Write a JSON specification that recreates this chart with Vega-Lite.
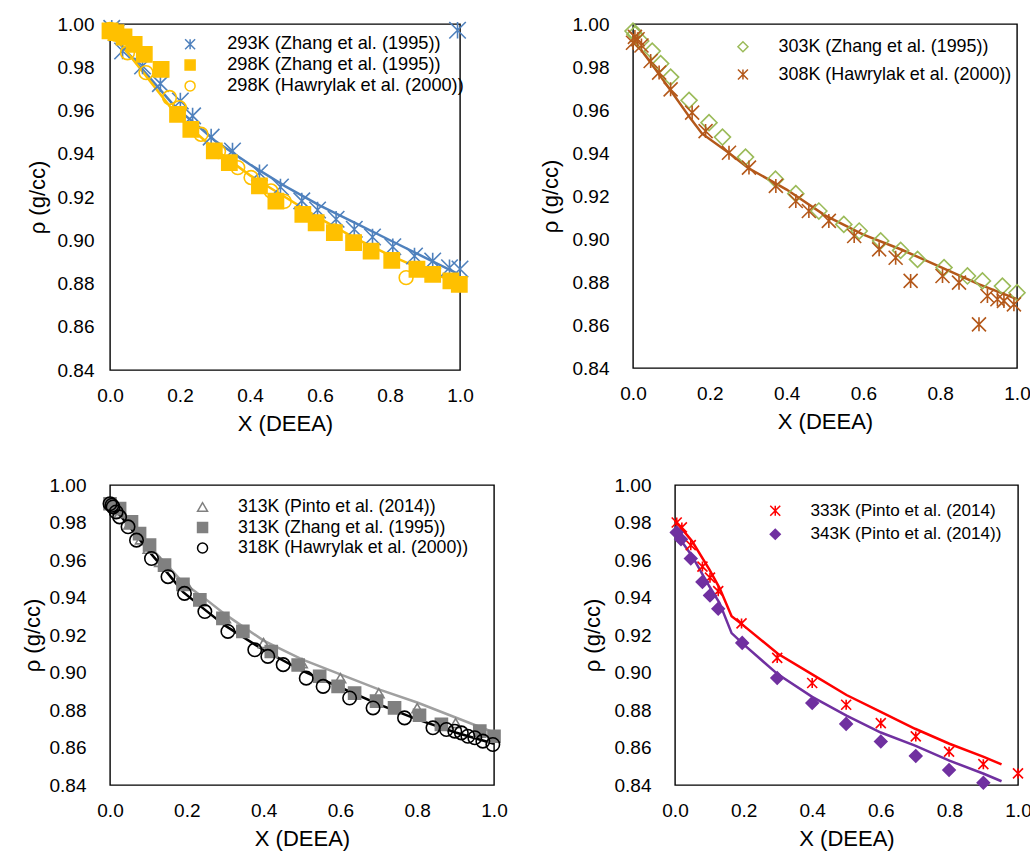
{
  "$schema": "https://vega.github.io/schema/vega-lite/v6.json",
  "padding": {"left": 20, "top": 14, "right": 5, "bottom": 5},
  "config": {
    "font": "Liberation Sans",
    "view": {"stroke": "#000000", "strokeWidth": 1.4},
    "axis": {"grid": false, "ticks": false, "domain": false, "labelFontSize": 19, "titleFontSize": 22, "titleFontWeight": "normal", "labelColor": "#000000", "titleColor": "#000000", "labelFont": "Liberation Sans", "titleFont": "Liberation Sans", "labelFlush": false},
    "legend": {"labelFontSize": 17.5, "labelColor": "#000000", "labelFont": "Liberation Sans", "symbolSize": 100, "symbolStrokeWidth": 1.5, "padding": 0, "labelLimit": 400}
  },
  "resolve": {"scale": {"x": "independent", "y": "independent", "color": "independent", "stroke": "independent", "fill": "independent", "shape": "independent", "size": "independent"}, "legend": {"stroke": "independent", "fill": "independent", "shape": "independent"}},
  "spacing": 39,
  "vconcat": [
    {
      "align": "none",
      "spacing": 64,
      "resolve": {"scale": {"x": "independent", "y": "independent", "color": "independent", "stroke": "independent", "fill": "independent", "shape": "independent", "size": "independent"}, "legend": {"stroke": "independent", "fill": "independent", "shape": "independent"}},
      "hconcat": [
        {
          "width": 350, "height": 346,
          "encoding": {
            "x": {"field": "x", "type": "quantitative", "scale": {"domain": [0, 1], "nice": false}, "axis": {"values": [0, 0.2, 0.4, 0.6, 0.8, 1], "format": ".1f", "title": "X (DEEA)", "labelPadding": 16.5, "titlePadding": 8}},
            "y": {"field": "rho", "type": "quantitative", "scale": {"domain": [0.84, 1], "nice": false, "zero": false}, "axis": {"values": [0.84, 0.86, 0.88, 0.9, 0.92, 0.94, 0.96, 0.98, 1], "format": ".2f", "title": "ρ (g/cc)", "labelPadding": 16, "titlePadding": 8}}
          },
          "layer": [
            {
              "data": {"values": [
                {"model": "293K", "x": 0, "rho": 0.996}, {"model": "293K", "x": 0.1, "rho": 0.9776}, {"model": "293K", "x": 0.19, "rho": 0.961}, {"model": "293K", "x": 0.25, "rho": 0.953}, {"model": "293K", "x": 0.3, "rho": 0.946}, {"model": "293K", "x": 0.4, "rho": 0.935}, {"model": "293K", "x": 0.5, "rho": 0.925}, {"model": "293K", "x": 0.6, "rho": 0.916}, {"model": "293K", "x": 0.7, "rho": 0.908}, {"model": "293K", "x": 0.8, "rho": 0.9}, {"model": "293K", "x": 0.9, "rho": 0.892}, {"model": "293K", "x": 1, "rho": 0.884},
                {"model": "298K", "x": 0, "rho": 0.997}, {"model": "298K", "x": 0.1, "rho": 0.9765}, {"model": "298K", "x": 0.19, "rho": 0.958}, {"model": "298K", "x": 0.25, "rho": 0.949}, {"model": "298K", "x": 0.3, "rho": 0.942}, {"model": "298K", "x": 0.4, "rho": 0.93}, {"model": "298K", "x": 0.5, "rho": 0.92}, {"model": "298K", "x": 0.6, "rho": 0.91}, {"model": "298K", "x": 0.7, "rho": 0.901}, {"model": "298K", "x": 0.8, "rho": 0.893}, {"model": "298K", "x": 0.9, "rho": 0.886}, {"model": "298K", "x": 1, "rho": 0.88}
              ]},
              "mark": {"type": "line", "strokeWidth": 2.5},
              "encoding": {"color": {"field": "model", "type": "nominal", "scale": {"domain": ["293K", "298K"], "range": ["#4F81BD", "#FFC000"]}, "legend": null}}
            },
            {
              "data": {"values": [
                {"s": "293K (Zhang et al. (1995))", "x": 0.005, "rho": 0.998}, {"s": "293K (Zhang et al. (1995))", "x": 0.018, "rho": 0.996}, {"s": "293K (Zhang et al. (1995))", "x": 0.036, "rho": 0.9875}, {"s": "293K (Zhang et al. (1995))", "x": 0.093, "rho": 0.9806}, {"s": "293K (Zhang et al. (1995))", "x": 0.144, "rho": 0.9724}, {"s": "293K (Zhang et al. (1995))", "x": 0.201, "rho": 0.9644}, {"s": "293K (Zhang et al. (1995))", "x": 0.236, "rho": 0.9575}, {"s": "293K (Zhang et al. (1995))", "x": 0.289, "rho": 0.9477}, {"s": "293K (Zhang et al. (1995))", "x": 0.35, "rho": 0.9413}, {"s": "293K (Zhang et al. (1995))", "x": 0.427, "rho": 0.9312}, {"s": "293K (Zhang et al. (1995))", "x": 0.487, "rho": 0.9246}, {"s": "293K (Zhang et al. (1995))", "x": 0.548, "rho": 0.9182}, {"s": "293K (Zhang et al. (1995))", "x": 0.593, "rho": 0.914}, {"s": "293K (Zhang et al. (1995))", "x": 0.646, "rho": 0.9097}, {"s": "293K (Zhang et al. (1995))", "x": 0.698, "rho": 0.9051}, {"s": "293K (Zhang et al. (1995))", "x": 0.75, "rho": 0.9015}, {"s": "293K (Zhang et al. (1995))", "x": 0.808, "rho": 0.897}, {"s": "293K (Zhang et al. (1995))", "x": 0.87, "rho": 0.8927}, {"s": "293K (Zhang et al. (1995))", "x": 0.922, "rho": 0.8904}, {"s": "293K (Zhang et al. (1995))", "x": 0.97, "rho": 0.8873}, {"s": "293K (Zhang et al. (1995))", "x": 1.0, "rho": 0.8867}, {"s": "293K (Zhang et al. (1995))", "x": 0.993, "rho": 0.9971},
                {"s": "298K (Zhang et al. (1995))", "x": 0.0, "rho": 0.9968}, {"s": "298K (Zhang et al. (1995))", "x": 0.017, "rho": 0.996}, {"s": "298K (Zhang et al. (1995))", "x": 0.04, "rho": 0.994}, {"s": "298K (Zhang et al. (1995))", "x": 0.069, "rho": 0.9906}, {"s": "298K (Zhang et al. (1995))", "x": 0.098, "rho": 0.986}, {"s": "298K (Zhang et al. (1995))", "x": 0.146, "rho": 0.979}, {"s": "298K (Zhang et al. (1995))", "x": 0.193, "rho": 0.9582}, {"s": "298K (Zhang et al. (1995))", "x": 0.231, "rho": 0.9513}, {"s": "298K (Zhang et al. (1995))", "x": 0.298, "rho": 0.9413}, {"s": "298K (Zhang et al. (1995))", "x": 0.341, "rho": 0.9359}, {"s": "298K (Zhang et al. (1995))", "x": 0.427, "rho": 0.9251}, {"s": "298K (Zhang et al. (1995))", "x": 0.474, "rho": 0.9181}, {"s": "298K (Zhang et al. (1995))", "x": 0.551, "rho": 0.912}, {"s": "298K (Zhang et al. (1995))", "x": 0.589, "rho": 0.9081}, {"s": "298K (Zhang et al. (1995))", "x": 0.641, "rho": 0.9035}, {"s": "298K (Zhang et al. (1995))", "x": 0.696, "rho": 0.8989}, {"s": "298K (Zhang et al. (1995))", "x": 0.746, "rho": 0.895}, {"s": "298K (Zhang et al. (1995))", "x": 0.805, "rho": 0.8907}, {"s": "298K (Zhang et al. (1995))", "x": 0.877, "rho": 0.8866}, {"s": "298K (Zhang et al. (1995))", "x": 0.922, "rho": 0.8842}, {"s": "298K (Zhang et al. (1995))", "x": 0.974, "rho": 0.8812}, {"s": "298K (Zhang et al. (1995))", "x": 0.998, "rho": 0.8796},
                {"s": "298K (Hawrylak et al. (2000))", "x": 0.0, "rho": 0.9975}, {"s": "298K (Hawrylak et al. (2000))", "x": 0.017, "rho": 0.9952}, {"s": "298K (Hawrylak et al. (2000))", "x": 0.05, "rho": 0.9867}, {"s": "298K (Hawrylak et al. (2000))", "x": 0.103, "rho": 0.9775}, {"s": "298K (Hawrylak et al. (2000))", "x": 0.17, "rho": 0.966}, {"s": "298K (Hawrylak et al. (2000))", "x": 0.198, "rho": 0.9613}, {"s": "298K (Hawrylak et al. (2000))", "x": 0.26, "rho": 0.949}, {"s": "298K (Hawrylak et al. (2000))", "x": 0.31, "rho": 0.941}, {"s": "298K (Hawrylak et al. (2000))", "x": 0.365, "rho": 0.9336}, {"s": "298K (Hawrylak et al. (2000))", "x": 0.403, "rho": 0.929}, {"s": "298K (Hawrylak et al. (2000))", "x": 0.46, "rho": 0.9228}, {"s": "298K (Hawrylak et al. (2000))", "x": 0.498, "rho": 0.918}, {"s": "298K (Hawrylak et al. (2000))", "x": 0.641, "rho": 0.9043}, {"s": "298K (Hawrylak et al. (2000))", "x": 0.846, "rho": 0.8827}
              ]},
              "mark": {"type": "point", "opacity": 1, "strokeWidth": 1.6},
              "encoding": {
                "stroke": {"field": "s", "type": "nominal", "scale": {"domain": ["293K (Zhang et al. (1995))", "298K (Zhang et al. (1995))", "298K (Hawrylak et al. (2000))"], "range": ["#4F81BD", "#FFC000", "#FFC000"]}, "legend": {"orient": "none", "legendX": 71, "legendY": 11.2, "rowPadding": 1.8, "labelOffset": 28, "labelFontSize": 18.2, "title": null}},
                "fill": {"field": "s", "type": "nominal", "scale": {"domain": ["293K (Zhang et al. (1995))", "298K (Zhang et al. (1995))", "298K (Hawrylak et al. (2000))"], "range": ["transparent", "#FFC000", "transparent"]}, "legend": {"orient": "none", "legendX": 71, "legendY": 11.2, "rowPadding": 1.8, "labelOffset": 28, "labelFontSize": 18.2, "title": null}},
                "shape": {"field": "s", "type": "nominal", "scale": {"domain": ["293K (Zhang et al. (1995))", "298K (Zhang et al. (1995))", "298K (Hawrylak et al. (2000))"], "range": ["M-1,-1L1,1M-1,1L1,-1M0,-1L0,1", "square", "circle"]}, "legend": {"orient": "none", "legendX": 71, "legendY": 11.2, "rowPadding": 1.8, "labelOffset": 28, "labelFontSize": 18.2, "title": null}},
                "size": {"field": "s", "type": "nominal", "scale": {"domain": ["298K (Hawrylak et al. (2000))", "298K (Zhang et al. (1995))", "293K (Zhang et al. (1995))"], "range": [190, 272, 144]}, "legend": null}
              }
            }
          ]
        },
        {
          "width": 384, "height": 344,
          "encoding": {
            "x": {"field": "x", "type": "quantitative", "scale": {"domain": [0, 1], "nice": false}, "axis": {"values": [0, 0.2, 0.4, 0.6, 0.8, 1], "format": ".1f", "title": "X (DEEA)", "labelPadding": 16.5, "titlePadding": 8}},
            "y": {"field": "rho", "type": "quantitative", "scale": {"domain": [0.84, 1], "nice": false, "zero": false}, "axis": {"values": [0.84, 0.86, 0.88, 0.9, 0.92, 0.94, 0.96, 0.98, 1], "format": ".2f", "title": "ρ (g/cc)", "labelPadding": 24, "titlePadding": 10}}
          },
          "layer": [
            {
              "data": {"values": [
                {"model": "308K", "x": 0, "rho": 0.993}, {"model": "308K", "x": 0.05, "rho": 0.981}, {"model": "308K", "x": 0.1, "rho": 0.9686}, {"model": "308K", "x": 0.15, "rho": 0.956}, {"model": "308K", "x": 0.18, "rho": 0.949}, {"model": "308K", "x": 0.25, "rho": 0.94}, {"model": "308K", "x": 0.3, "rho": 0.933}, {"model": "308K", "x": 0.4, "rho": 0.923}, {"model": "308K", "x": 0.5, "rho": 0.911}, {"model": "308K", "x": 0.6, "rho": 0.902}, {"model": "308K", "x": 0.7, "rho": 0.895}, {"model": "308K", "x": 0.8, "rho": 0.887}, {"model": "308K", "x": 0.9, "rho": 0.879}, {"model": "308K", "x": 1, "rho": 0.872}
              ]},
              "mark": {"type": "line", "strokeWidth": 2.5},
              "encoding": {"color": {"field": "model", "type": "nominal", "scale": {"domain": ["308K"], "range": ["#B4581A"]}, "legend": null}}
            },
            {
              "data": {"values": [
                {"s": "303K (Zhang et al. (1995))", "x": 0.0, "rho": 0.9967}, {"s": "303K (Zhang et al. (1995))", "x": 0.005, "rho": 0.9952}, {"s": "303K (Zhang et al. (1995))", "x": 0.02, "rho": 0.9921}, {"s": "303K (Zhang et al. (1995))", "x": 0.05, "rho": 0.9874}, {"s": "303K (Zhang et al. (1995))", "x": 0.072, "rho": 0.9816}, {"s": "303K (Zhang et al. (1995))", "x": 0.098, "rho": 0.9753}, {"s": "303K (Zhang et al. (1995))", "x": 0.146, "rho": 0.9645}, {"s": "303K (Zhang et al. (1995))", "x": 0.198, "rho": 0.9541}, {"s": "303K (Zhang et al. (1995))", "x": 0.233, "rho": 0.9474}, {"s": "303K (Zhang et al. (1995))", "x": 0.293, "rho": 0.9381}, {"s": "303K (Zhang et al. (1995))", "x": 0.371, "rho": 0.9278}, {"s": "303K (Zhang et al. (1995))", "x": 0.424, "rho": 0.9211}, {"s": "303K (Zhang et al. (1995))", "x": 0.484, "rho": 0.913}, {"s": "303K (Zhang et al. (1995))", "x": 0.549, "rho": 0.9068}, {"s": "303K (Zhang et al. (1995))", "x": 0.589, "rho": 0.9037}, {"s": "303K (Zhang et al. (1995))", "x": 0.645, "rho": 0.8991}, {"s": "303K (Zhang et al. (1995))", "x": 0.697, "rho": 0.8947}, {"s": "303K (Zhang et al. (1995))", "x": 0.741, "rho": 0.8905}, {"s": "303K (Zhang et al. (1995))", "x": 0.81, "rho": 0.8867}, {"s": "303K (Zhang et al. (1995))", "x": 0.871, "rho": 0.8828}, {"s": "303K (Zhang et al. (1995))", "x": 0.91, "rho": 0.8805}, {"s": "303K (Zhang et al. (1995))", "x": 0.962, "rho": 0.8781}, {"s": "303K (Zhang et al. (1995))", "x": 1.0, "rho": 0.875},
                {"s": "308K (Hawrylak et al. (2000))", "x": 0.0, "rho": 0.9913}, {"s": "308K (Hawrylak et al. (2000))", "x": 0.005, "rho": 0.994}, {"s": "308K (Hawrylak et al. (2000))", "x": 0.012, "rho": 0.9929}, {"s": "308K (Hawrylak et al. (2000))", "x": 0.022, "rho": 0.99}, {"s": "308K (Hawrylak et al. (2000))", "x": 0.046, "rho": 0.9828}, {"s": "308K (Hawrylak et al. (2000))", "x": 0.068, "rho": 0.9774}, {"s": "308K (Hawrylak et al. (2000))", "x": 0.098, "rho": 0.9696}, {"s": "308K (Hawrylak et al. (2000))", "x": 0.154, "rho": 0.9588}, {"s": "308K (Hawrylak et al. (2000))", "x": 0.189, "rho": 0.9502}, {"s": "308K (Hawrylak et al. (2000))", "x": 0.25, "rho": 0.9401}, {"s": "308K (Hawrylak et al. (2000))", "x": 0.302, "rho": 0.9332}, {"s": "308K (Hawrylak et al. (2000))", "x": 0.372, "rho": 0.9247}, {"s": "308K (Hawrylak et al. (2000))", "x": 0.424, "rho": 0.9177}, {"s": "308K (Hawrylak et al. (2000))", "x": 0.458, "rho": 0.913}, {"s": "308K (Hawrylak et al. (2000))", "x": 0.51, "rho": 0.9084}, {"s": "308K (Hawrylak et al. (2000))", "x": 0.576, "rho": 0.9014}, {"s": "308K (Hawrylak et al. (2000))", "x": 0.641, "rho": 0.8952}, {"s": "308K (Hawrylak et al. (2000))", "x": 0.684, "rho": 0.8913}, {"s": "308K (Hawrylak et al. (2000))", "x": 0.723, "rho": 0.8805}, {"s": "308K (Hawrylak et al. (2000))", "x": 0.806, "rho": 0.8828}, {"s": "308K (Hawrylak et al. (2000))", "x": 0.849, "rho": 0.8797}, {"s": "308K (Hawrylak et al. (2000))", "x": 0.901, "rho": 0.8603}, {"s": "308K (Hawrylak et al. (2000))", "x": 0.923, "rho": 0.8735}, {"s": "308K (Hawrylak et al. (2000))", "x": 0.949, "rho": 0.872}, {"s": "308K (Hawrylak et al. (2000))", "x": 0.966, "rho": 0.8712}, {"s": "308K (Hawrylak et al. (2000))", "x": 0.992, "rho": 0.8696}
              ]},
              "mark": {"type": "point", "opacity": 1, "strokeWidth": 1.6},
              "encoding": {
                "stroke": {"field": "s", "type": "nominal", "scale": {"domain": ["303K (Zhang et al. (1995))", "308K (Hawrylak et al. (2000))"], "range": ["#9BBB59", "#B4581A"]}, "legend": {"orient": "none", "legendX": 101, "legendY": 13.75, "rowPadding": 8.8, "labelOffset": 26.7, "labelFontSize": 17.9, "title": null}},
                "fill": {"field": "s", "type": "nominal", "scale": {"domain": ["303K (Zhang et al. (1995))", "308K (Hawrylak et al. (2000))"], "range": ["transparent", "transparent"]}, "legend": {"orient": "none", "legendX": 101, "legendY": 13.75, "rowPadding": 8.8, "labelOffset": 26.7, "labelFontSize": 17.9, "title": null}},
                "shape": {"field": "s", "type": "nominal", "scale": {"domain": ["303K (Zhang et al. (1995))", "308K (Hawrylak et al. (2000))"], "range": ["diamond", "M-1,-1L1,1M-1,1L1,-1M0,-1L0,1"]}, "legend": {"orient": "none", "legendX": 101, "legendY": 13.75, "rowPadding": 8.8, "labelOffset": 26.7, "labelFontSize": 17.9, "title": null}},
                "size": {"field": "s", "type": "nominal", "scale": {"domain": ["308K (Hawrylak et al. (2000))", "303K (Zhang et al. (1995))"], "range": [196, 256]}, "legend": null}
              }
            }
          ]
        }
      ]
    },
    {
      "align": "none",
      "spacing": 72,
      "resolve": {"scale": {"x": "independent", "y": "independent", "color": "independent", "stroke": "independent", "fill": "independent", "shape": "independent", "size": "independent"}, "legend": {"stroke": "independent", "fill": "independent", "shape": "independent"}},
      "hconcat": [
        {
          "width": 384, "height": 300,
          "encoding": {
            "x": {"field": "x", "type": "quantitative", "scale": {"domain": [0, 1], "nice": false}, "axis": {"values": [0, 0.2, 0.4, 0.6, 0.8, 1], "format": ".1f", "title": "X (DEEA)", "labelPadding": 16.5, "titlePadding": 8}},
            "y": {"field": "rho", "type": "quantitative", "scale": {"domain": [0.84, 1], "nice": false, "zero": false}, "axis": {"values": [0.84, 0.86, 0.88, 0.9, 0.92, 0.94, 0.96, 0.98, 1], "format": ".2f", "title": "ρ (g/cc)", "labelPadding": 24, "titlePadding": 5}}
          },
          "layer": [
            {
              "data": {"values": [
                {"model": "313K", "x": 0, "rho": 0.99}, {"model": "313K", "x": 0.05, "rho": 0.979}, {"model": "313K", "x": 0.1, "rho": 0.968}, {"model": "313K", "x": 0.15, "rho": 0.957}, {"model": "313K", "x": 0.19, "rho": 0.948}, {"model": "313K", "x": 0.25, "rho": 0.939}, {"model": "313K", "x": 0.3, "rho": 0.931}, {"model": "313K", "x": 0.4, "rho": 0.917}, {"model": "313K", "x": 0.5, "rho": 0.907}, {"model": "313K", "x": 0.6, "rho": 0.899}, {"model": "313K", "x": 0.7, "rho": 0.891}, {"model": "313K", "x": 0.8, "rho": 0.884}, {"model": "313K", "x": 0.9, "rho": 0.876}, {"model": "313K", "x": 1, "rho": 0.868},
                {"model": "318K", "x": 0, "rho": 0.99}, {"model": "318K", "x": 0.05, "rho": 0.978}, {"model": "318K", "x": 0.1, "rho": 0.965}, {"model": "318K", "x": 0.15, "rho": 0.953}, {"model": "318K", "x": 0.19, "rho": 0.943}, {"model": "318K", "x": 0.25, "rho": 0.933}, {"model": "318K", "x": 0.3, "rho": 0.925}, {"model": "318K", "x": 0.4, "rho": 0.912}, {"model": "318K", "x": 0.5, "rho": 0.901}, {"model": "318K", "x": 0.6, "rho": 0.892}, {"model": "318K", "x": 0.7, "rho": 0.883}, {"model": "318K", "x": 0.8, "rho": 0.875}, {"model": "318K", "x": 0.9, "rho": 0.868}, {"model": "318K", "x": 1, "rho": 0.862}
              ]},
              "mark": {"type": "line", "strokeWidth": 2.5},
              "encoding": {"color": {"field": "model", "type": "nominal", "scale": {"domain": ["313K", "318K"], "range": ["#A0A0A0", "#000000"]}, "legend": null}}
            },
            {
              "data": {"values": [
                {"s": "313K (Pinto et al. (2014))", "x": 0.013, "rho": 0.988}, {"s": "313K (Pinto et al. (2014))", "x": 0.025, "rho": 0.985}, {"s": "313K (Pinto et al. (2014))", "x": 0.05, "rho": 0.979}, {"s": "313K (Pinto et al. (2014))", "x": 0.08, "rho": 0.971}, {"s": "313K (Pinto et al. (2014))", "x": 0.1, "rho": 0.966}, {"s": "313K (Pinto et al. (2014))", "x": 0.13, "rho": 0.959}, {"s": "313K (Pinto et al. (2014))", "x": 0.2, "rho": 0.9467}, {"s": "313K (Pinto et al. (2014))", "x": 0.3, "rho": 0.929}, {"s": "313K (Pinto et al. (2014))", "x": 0.4, "rho": 0.9157}, {"s": "313K (Pinto et al. (2014))", "x": 0.5, "rho": 0.905}, {"s": "313K (Pinto et al. (2014))", "x": 0.6, "rho": 0.897}, {"s": "313K (Pinto et al. (2014))", "x": 0.7, "rho": 0.889}, {"s": "313K (Pinto et al. (2014))", "x": 0.8, "rho": 0.881}, {"s": "313K (Pinto et al. (2014))", "x": 0.9, "rho": 0.873}, {"s": "313K (Pinto et al. (2014))", "x": 1.0, "rho": 0.866},
                {"s": "313K (Zhang et al. (1995))", "x": 0.0, "rho": 0.99}, {"s": "313K (Zhang et al. (1995))", "x": 0.025, "rho": 0.9874}, {"s": "313K (Zhang et al. (1995))", "x": 0.056, "rho": 0.9803}, {"s": "313K (Zhang et al. (1995))", "x": 0.077, "rho": 0.9741}, {"s": "313K (Zhang et al. (1995))", "x": 0.103, "rho": 0.968}, {"s": "313K (Zhang et al. (1995))", "x": 0.142, "rho": 0.9573}, {"s": "313K (Zhang et al. (1995))", "x": 0.19, "rho": 0.947}, {"s": "313K (Zhang et al. (1995))", "x": 0.234, "rho": 0.9387}, {"s": "313K (Zhang et al. (1995))", "x": 0.294, "rho": 0.9289}, {"s": "313K (Zhang et al. (1995))", "x": 0.346, "rho": 0.9219}, {"s": "313K (Zhang et al. (1995))", "x": 0.42, "rho": 0.9112}, {"s": "313K (Zhang et al. (1995))", "x": 0.49, "rho": 0.904}, {"s": "313K (Zhang et al. (1995))", "x": 0.546, "rho": 0.898}, {"s": "313K (Zhang et al. (1995))", "x": 0.594, "rho": 0.8926}, {"s": "313K (Zhang et al. (1995))", "x": 0.637, "rho": 0.889}, {"s": "313K (Zhang et al. (1995))", "x": 0.694, "rho": 0.8847}, {"s": "313K (Zhang et al. (1995))", "x": 0.741, "rho": 0.8811}, {"s": "313K (Zhang et al. (1995))", "x": 0.806, "rho": 0.8772}, {"s": "313K (Zhang et al. (1995))", "x": 0.863, "rho": 0.8723}, {"s": "313K (Zhang et al. (1995))", "x": 0.963, "rho": 0.8687}, {"s": "313K (Zhang et al. (1995))", "x": 1.0, "rho": 0.866},
                {"s": "318K (Hawrylak et al. (2000))", "x": 0.0, "rho": 0.990}, {"s": "318K (Hawrylak et al. (2000))", "x": 0.005, "rho": 0.9892}, {"s": "318K (Hawrylak et al. (2000))", "x": 0.008, "rho": 0.9883}, {"s": "318K (Hawrylak et al. (2000))", "x": 0.016, "rho": 0.9856}, {"s": "318K (Hawrylak et al. (2000))", "x": 0.025, "rho": 0.983}, {"s": "318K (Hawrylak et al. (2000))", "x": 0.047, "rho": 0.9777}, {"s": "318K (Hawrylak et al. (2000))", "x": 0.069, "rho": 0.9706}, {"s": "318K (Hawrylak et al. (2000))", "x": 0.108, "rho": 0.9608}, {"s": "318K (Hawrylak et al. (2000))", "x": 0.151, "rho": 0.9511}, {"s": "318K (Hawrylak et al. (2000))", "x": 0.194, "rho": 0.9422}, {"s": "318K (Hawrylak et al. (2000))", "x": 0.247, "rho": 0.9325}, {"s": "318K (Hawrylak et al. (2000))", "x": 0.307, "rho": 0.9219}, {"s": "318K (Hawrylak et al. (2000))", "x": 0.377, "rho": 0.9121}, {"s": "318K (Hawrylak et al. (2000))", "x": 0.411, "rho": 0.9086}, {"s": "318K (Hawrylak et al. (2000))", "x": 0.451, "rho": 0.9042}, {"s": "318K (Hawrylak et al. (2000))", "x": 0.511, "rho": 0.897}, {"s": "318K (Hawrylak et al. (2000))", "x": 0.555, "rho": 0.8926}, {"s": "318K (Hawrylak et al. (2000))", "x": 0.624, "rho": 0.8864}, {"s": "318K (Hawrylak et al. (2000))", "x": 0.685, "rho": 0.8811}, {"s": "318K (Hawrylak et al. (2000))", "x": 0.767, "rho": 0.8758}, {"s": "318K (Hawrylak et al. (2000))", "x": 0.841, "rho": 0.8705}, {"s": "318K (Hawrylak et al. (2000))", "x": 0.876, "rho": 0.8696}, {"s": "318K (Hawrylak et al. (2000))", "x": 0.898, "rho": 0.8687}, {"s": "318K (Hawrylak et al. (2000))", "x": 0.915, "rho": 0.8678}, {"s": "318K (Hawrylak et al. (2000))", "x": 0.932, "rho": 0.866}, {"s": "318K (Hawrylak et al. (2000))", "x": 0.95, "rho": 0.8652}, {"s": "318K (Hawrylak et al. (2000))", "x": 0.971, "rho": 0.8634}, {"s": "318K (Hawrylak et al. (2000))", "x": 0.997, "rho": 0.8616}
              ]},
              "mark": {"type": "point", "opacity": 1, "strokeWidth": 1.6},
              "encoding": {
                "stroke": {"field": "s", "type": "nominal", "scale": {"domain": ["313K (Pinto et al. (2014))", "313K (Zhang et al. (1995))", "318K (Hawrylak et al. (2000))"], "range": ["#808080", "#808080", "#000000"]}, "legend": {"orient": "none", "legendX": 83.7, "legendY": 13.15, "rowPadding": 1.5, "labelOffset": 26.6, "labelFontSize": 17.7, "title": null}},
                "fill": {"field": "s", "type": "nominal", "scale": {"domain": ["313K (Pinto et al. (2014))", "313K (Zhang et al. (1995))", "318K (Hawrylak et al. (2000))"], "range": ["transparent", "#808080", "transparent"]}, "legend": {"orient": "none", "legendX": 83.7, "legendY": 13.15, "rowPadding": 1.5, "labelOffset": 26.6, "labelFontSize": 17.7, "title": null}},
                "shape": {"field": "s", "type": "nominal", "scale": {"domain": ["313K (Pinto et al. (2014))", "313K (Zhang et al. (1995))", "318K (Hawrylak et al. (2000))"], "range": ["triangle-up", "square", "circle"]}, "legend": {"orient": "none", "legendX": 83.7, "legendY": 13.15, "rowPadding": 1.5, "labelOffset": 26.6, "labelFontSize": 17.7, "title": null}},
                "size": {"field": "s", "type": "nominal", "scale": {"domain": ["318K (Hawrylak et al. (2000))", "313K (Zhang et al. (1995))", "313K (Pinto et al. (2014))"], "range": [180, 110, 100]}, "legend": null}
              }
            }
          ]
        },
        {
          "width": 343, "height": 300,
          "encoding": {
            "x": {"field": "x", "type": "quantitative", "scale": {"domain": [0, 1], "nice": false}, "axis": {"values": [0, 0.2, 0.4, 0.6, 0.8, 1], "format": ".1f", "title": "X (DEEA)", "labelPadding": 16.5, "titlePadding": 8}},
            "y": {"field": "rho", "type": "quantitative", "scale": {"domain": [0.84, 1], "nice": false, "zero": false}, "axis": {"values": [0.84, 0.86, 0.88, 0.9, 0.92, 0.94, 0.96, 0.98, 1], "format": ".2f", "title": "ρ (g/cc)", "labelPadding": 24, "titlePadding": 10}}
          },
          "layer": [
            {
              "data": {"values": [
                {"model": "333K", "x": 0, "rho": 0.981}, {"model": "333K", "x": 0.05, "rho": 0.97}, {"model": "333K", "x": 0.1, "rho": 0.955}, {"model": "333K", "x": 0.13, "rho": 0.945}, {"model": "333K", "x": 0.165, "rho": 0.93}, {"model": "333K", "x": 0.2, "rho": 0.925}, {"model": "333K", "x": 0.3, "rho": 0.91}, {"model": "333K", "x": 0.4, "rho": 0.899}, {"model": "333K", "x": 0.5, "rho": 0.888}, {"model": "333K", "x": 0.6, "rho": 0.879}, {"model": "333K", "x": 0.7, "rho": 0.87}, {"model": "333K", "x": 0.8, "rho": 0.862}, {"model": "333K", "x": 0.9, "rho": 0.855}, {"model": "333K", "x": 0.952, "rho": 0.851},
                {"model": "343K", "x": 0, "rho": 0.975}, {"model": "343K", "x": 0.05, "rho": 0.962}, {"model": "343K", "x": 0.1, "rho": 0.946}, {"model": "343K", "x": 0.13, "rho": 0.937}, {"model": "343K", "x": 0.165, "rho": 0.921}, {"model": "343K", "x": 0.2, "rho": 0.915}, {"model": "343K", "x": 0.3, "rho": 0.899}, {"model": "343K", "x": 0.4, "rho": 0.887}, {"model": "343K", "x": 0.5, "rho": 0.877}, {"model": "343K", "x": 0.6, "rho": 0.868}, {"model": "343K", "x": 0.7, "rho": 0.861}, {"model": "343K", "x": 0.8, "rho": 0.853}, {"model": "343K", "x": 0.9, "rho": 0.846}, {"model": "343K", "x": 0.952, "rho": 0.842}
              ]},
              "mark": {"type": "line", "strokeWidth": 2.5},
              "encoding": {"color": {"field": "model", "type": "nominal", "scale": {"domain": ["333K", "343K"], "range": ["#FF0000", "#7030A0"]}, "legend": null}}
            },
            {
              "data": {"values": [
                {"s": "333K (Pinto et al. (2014)", "x": 0.005, "rho": 0.98}, {"s": "333K (Pinto et al. (2014)", "x": 0.02, "rho": 0.9774}, {"s": "333K (Pinto et al. (2014)", "x": 0.046, "rho": 0.9679}, {"s": "333K (Pinto et al. (2014)", "x": 0.08, "rho": 0.9565}, {"s": "333K (Pinto et al. (2014)", "x": 0.102, "rho": 0.9506}, {"s": "333K (Pinto et al. (2014)", "x": 0.126, "rho": 0.9434}, {"s": "333K (Pinto et al. (2014)", "x": 0.194, "rho": 0.9262}, {"s": "333K (Pinto et al. (2014)", "x": 0.298, "rho": 0.9078}, {"s": "333K (Pinto et al. (2014)", "x": 0.4, "rho": 0.8944}, {"s": "333K (Pinto et al. (2014)", "x": 0.499, "rho": 0.8828}, {"s": "333K (Pinto et al. (2014)", "x": 0.6, "rho": 0.873}, {"s": "333K (Pinto et al. (2014)", "x": 0.702, "rho": 0.8659}, {"s": "333K (Pinto et al. (2014)", "x": 0.799, "rho": 0.8578}, {"s": "333K (Pinto et al. (2014)", "x": 0.899, "rho": 0.8511}, {"s": "333K (Pinto et al. (2014)", "x": 1.0, "rho": 0.8462},
                {"s": "343K (Pinto et al. (2014))", "x": 0.005, "rho": 0.9747}, {"s": "343K (Pinto et al. (2014))", "x": 0.0175, "rho": 0.9711}, {"s": "343K (Pinto et al. (2014))", "x": 0.046, "rho": 0.9608}, {"s": "343K (Pinto et al. (2014))", "x": 0.08, "rho": 0.9483}, {"s": "343K (Pinto et al. (2014))", "x": 0.102, "rho": 0.9411}, {"s": "343K (Pinto et al. (2014))", "x": 0.126, "rho": 0.934}, {"s": "343K (Pinto et al. (2014))", "x": 0.196, "rho": 0.9158}, {"s": "343K (Pinto et al. (2014))", "x": 0.298, "rho": 0.8971}, {"s": "343K (Pinto et al. (2014))", "x": 0.4, "rho": 0.8837}, {"s": "343K (Pinto et al. (2014))", "x": 0.499, "rho": 0.8726}, {"s": "343K (Pinto et al. (2014))", "x": 0.6, "rho": 0.8632}, {"s": "343K (Pinto et al. (2014))", "x": 0.702, "rho": 0.8555}, {"s": "343K (Pinto et al. (2014))", "x": 0.799, "rho": 0.848}, {"s": "343K (Pinto et al. (2014))", "x": 0.899, "rho": 0.8412}
              ]},
              "mark": {"type": "point", "opacity": 1, "strokeWidth": 1.6},
              "encoding": {
                "stroke": {"field": "s", "type": "nominal", "scale": {"domain": ["333K (Pinto et al. (2014)", "343K (Pinto et al. (2014))"], "range": ["#FF0000", "#7030A0"]}, "legend": {"orient": "none", "legendX": 91.7, "legendY": 17.15, "rowPadding": 5.6, "labelOffset": 26.6, "labelFontSize": 17.1, "title": null}},
                "fill": {"field": "s", "type": "nominal", "scale": {"domain": ["333K (Pinto et al. (2014)", "343K (Pinto et al. (2014))"], "range": ["transparent", "#7030A0"]}, "legend": {"orient": "none", "legendX": 91.7, "legendY": 17.15, "rowPadding": 5.6, "labelOffset": 26.6, "labelFontSize": 17.1, "title": null}},
                "shape": {"field": "s", "type": "nominal", "scale": {"domain": ["333K (Pinto et al. (2014)", "343K (Pinto et al. (2014))"], "range": ["M-1,-1L1,1M-1,1L1,-1M0,-1L0,1", "diamond"]}, "legend": {"orient": "none", "legendX": 91.7, "legendY": 17.15, "rowPadding": 5.6, "labelOffset": 26.6, "labelFontSize": 17.1, "title": null}},
                "size": {"field": "s", "type": "nominal", "scale": {"domain": ["343K (Pinto et al. (2014))", "333K (Pinto et al. (2014)"], "range": [150, 100]}, "legend": null}
              }
            }
          ]
        }
      ]
    }
  ]
}
